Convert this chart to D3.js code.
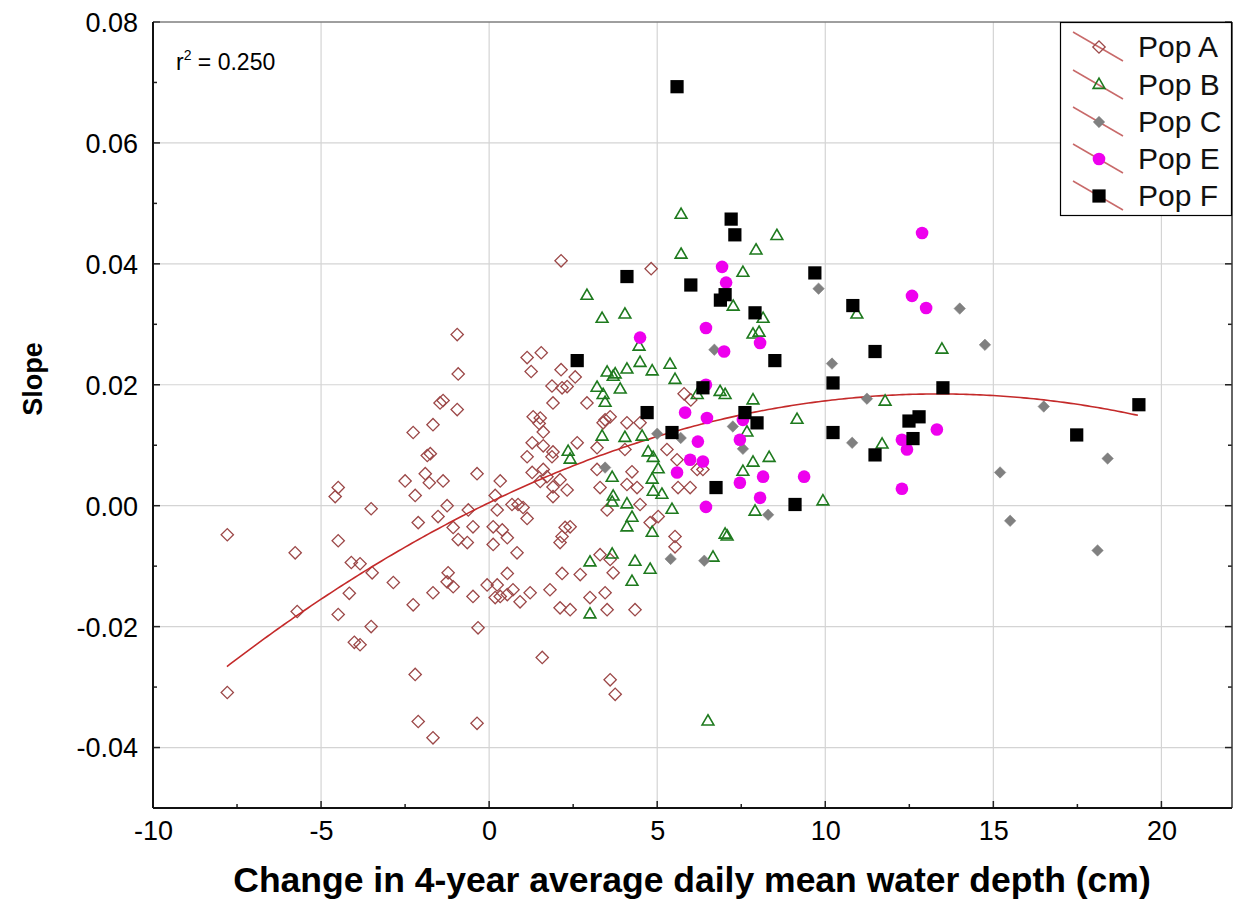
<!DOCTYPE html>
<html><head><meta charset="utf-8">
<script src="https://cdn.jsdelivr.net/npm/d3@7"></script>
<style>body{margin:0;background:#fff} text{font-family:"Liberation Sans",Arial,sans-serif}</style>
</head><body><svg id="chart" width="1233" height="913"></svg>
<script>
// Slope vs change in water depth, five populations
const popA = [
[-7.79,-0.0048],[-5.77,-0.0078],[-5.71,-0.0175],[-7.79,-0.0309],[-4.49,0.0030],[-4.58,0.0015],[-4.49,-0.0058],[-4.10,-0.0094],[-3.84,-0.0096],[-4.16,-0.0145],[-4.49,-0.0180],[-4.01,-0.0226],[-3.84,-0.0230],
[-0.95,0.0283],[-0.92,0.0218],[-1.46,0.0170],[-1.37,0.0174],[-0.95,0.0159],[-1.67,0.0134],[-2.26,0.0121],[-1.84,0.0083],[-1.75,0.0086],[-1.90,0.0053],[-2.50,0.0041],[-1.78,0.0038],[-1.37,0.0041],[-0.36,0.0053],[-2.20,0.0017],[-3.51,-0.0005],[-1.25,0.0000],[-1.52,-0.0018],[-2.11,-0.0028],[-0.62,-0.0007],
[-1.07,-0.0036],[-0.48,-0.0035],[-0.92,-0.0056],[-0.65,-0.0061],[0.12,-0.0035],[0.12,-0.0064],[-3.48,-0.0111],[-2.85,-0.0127],[-2.26,-0.0164],[-1.67,-0.0144],[-1.22,-0.0111],[-1.25,-0.0126],[-1.07,-0.0134],[-0.48,-0.0150],[-0.06,-0.0131],[0.18,-0.0152],[-3.51,-0.0200],[-0.33,-0.0202],[-2.20,-0.0279],[-2.11,-0.0357],[-1.67,-0.0384],[-0.36,-0.0360],
[2.14,0.0405],[1.13,0.0245],[1.55,0.0253],[1.25,0.0222],[2.14,0.0225],[2.56,0.0213],[1.87,0.0198],[2.17,0.0195],[2.32,0.0197],[1.90,0.0170],[2.91,0.0170],[1.31,0.0147],[1.52,0.0145],
[1.49,0.0136],[1.61,0.0122],[1.28,0.0104],[1.61,0.0099],[1.13,0.0081],[1.90,0.0089],[1.87,0.0081],[2.62,0.0104],[3.21,0.0096],[3.45,0.0142],[1.28,0.0055],[1.61,0.0060],[1.72,0.0048],[1.52,0.0040],[2.11,0.0043],[1.90,0.0031],[2.32,0.0026],[1.90,0.0015],[0.33,0.0041],[0.18,0.0017],[0.24,-0.0007],[0.68,0.0002],[0.86,0.0002],[1.01,-0.0003],[1.13,-0.0021],[0.39,-0.0040],[0.54,-0.0053],[0.83,-0.0078],[2.26,-0.0036],[2.41,-0.0035],[2.17,-0.0051],[2.11,-0.0061],[3.21,0.0060],[3.30,0.0030],[3.51,-0.0007],[3.30,-0.0081],[3.60,-0.0089],
[0.54,-0.0112],[0.24,-0.0131],[0.33,-0.0150],[0.71,-0.0139],[0.54,-0.0147],[0.92,-0.0159],[1.22,-0.0144],[1.81,-0.0139],[2.11,-0.0169],[2.41,-0.0172],[2.71,-0.0114],[2.17,-0.0112],[3.00,-0.0152],[3.45,-0.0144],[3.51,-0.0172],[3.69,-0.0111],[1.58,-0.0251],[3.60,-0.0288],[3.75,-0.0312],
[4.82,0.0392],[3.39,0.0137],[3.60,0.0147],[4.10,0.0137],[4.49,0.0137],[4.04,0.0093],[5.29,0.0093],[5.59,0.0076],[4.25,0.0056],[4.10,0.0035],[4.40,0.0030],[5.98,0.0030],[5.62,0.0030],[6.19,0.0060],[6.36,0.0060],[4.49,0.0002],[5.03,-0.0018],[4.79,-0.0028],[5.53,-0.0051],[5.53,-0.0068],[4.34,-0.0172],
[5.80,0.0185],[6.00,0.0175]
];
const popB = [
[2.91,0.0347],[3.36,0.0309],[3.21,0.0195],[3.39,0.0183],[3.45,0.0170],[3.69,0.0213],
[5.71,0.0481],[5.71,0.0415],[4.04,0.0316],[4.46,0.0263],[4.10,0.0225],[4.49,0.0236],[4.85,0.0222],[5.38,0.0233],[3.51,0.0220],[3.75,0.0217],[5.53,0.0208],[3.90,0.0192],
[2.35,0.0089],[2.41,0.0076],[3.36,0.0114],[3.66,0.0046],[3.69,0.0015],[3.00,-0.0094],[3.00,-0.0180],
[4.04,0.0112],[4.55,0.0114],[4.73,0.0088],[4.88,0.0079],[5.03,0.0060],[4.85,0.0043],[4.88,0.0023],[5.14,0.0018],[3.66,0.0005],[4.10,0.0002],[4.25,-0.0020],[4.10,-0.0036],[4.85,-0.0045],[5.44,-0.0007],[3.66,-0.0081],[4.34,-0.0093],[4.79,-0.0106],[4.25,-0.0126],[7.02,-0.0048],[6.66,-0.0086],[6.51,-0.0357],
[8.56,0.0446],[7.94,0.0422],[7.55,0.0385],[7.26,0.0329],[8.15,0.0309],[7.85,0.0283],[8.03,0.0286],[7.02,0.0183],[7.85,0.0174],[9.16,0.0142],[7.67,0.0121],[7.85,0.0071],[8.33,0.0079],[7.55,0.0056],[9.93,0.0007],[7.91,-0.0010],[7.08,-0.0051],[10.94,0.0316],
[13.47,0.0258],[11.78,0.0172],[11.69,0.0101],
[6.19,0.0183],[6.87,0.0188]
];
const popC = [
[14.0,0.0326],[14.75,0.0266],[9.8,0.0359],[10.2,0.0235],[11.24,0.0177],[10.8,0.0104],[7.55,0.0094],[7.25,0.0131],[8.3,-0.0015],[16.5,0.0164],[18.4,0.0078],[15.2,0.0055],[15.5,-0.0025],[18.1,-0.0074],[6.7,0.0258],[5.0,0.0119],[5.7,0.0112],[3.45,0.0063],[5.4,-0.0088],[6.4,-0.0091]
];
const popE = [
[12.88,0.0451],[12.58,0.0347],[13.0,0.0327],[13.32,0.0126],[12.28,0.0109],[12.43,0.0093],[12.28,0.0028],[9.37,0.0048],[8.15,0.0048],[8.06,0.0013],[7.46,0.0038],[7.55,0.0142],[7.46,0.0109],[6.99,0.0255],[8.06,0.0269],[6.93,0.0395],[7.05,0.0369],[6.45,0.0294],[4.49,0.0278],[5.83,0.0154],[6.48,0.0145],[6.21,0.0106],[5.98,0.0076],[6.36,0.0073],[5.59,0.0055],[6.45,-0.0002],[6.45,0.0200]
];
const popF = [
[5.59,0.0693],[7.2,0.0474],[7.31,0.0448],[4.10,0.0379],[6.0,0.0365],[7.02,0.0349],[6.88,0.0340],[9.69,0.0385],[10.82,0.0331],[7.91,0.0319],[11.48,0.0255],[2.62,0.0240],[8.5,0.0240],[10.23,0.0203],[6.36,0.0195],[13.5,0.0195],[19.33,0.0167],[4.70,0.0154],[7.61,0.0154],[12.79,0.0147],[12.49,0.0140],[7.97,0.0137],[5.44,0.0121],[10.23,0.0121],[17.48,0.0117],[12.61,0.0111],[11.48,0.0084],[6.75,0.0030],[9.1,0.0002]
];
const seriesNames = ["Pop A", "Pop B", "Pop C", "Pop E", "Pop F"];
const xTickValues = [-10, -5, 0, 5, 10, 15, 20];
const yTickValues = [-0.04, -0.02, 0.00, 0.02, 0.04, 0.06, 0.08];
// quadratic fit: slope = c0 + c1*x + c2*x^2
const fitCoefficients = [0.0005, 0.00269, -0.0001006];
const fitXRange = [-7.8, 19.3];
const rSquaredText = "0.250";

const W = 1233, H = 913;
const plot = {left: 153, right: 1232, top: 22, bottom: 808};
const svg = d3.select("#chart");
svg.append("rect").attr("width", W).attr("height", H).attr("fill", "#fff");

const x = d3.scaleLinear().domain([-10, 22.1]).range([plot.left, plot.right]);
const y = d3.scaleLinear().domain([-0.05, 0.08]).range([plot.bottom, plot.top]);

// grid
const grid = svg.append("g").attr("stroke", "#d4d4d4").attr("stroke-width", 1.2);
xTickValues.filter(v => v > -10).forEach(v => {
  grid.append("line").attr("x1", x(v)).attr("x2", x(v)).attr("y1", plot.top).attr("y2", plot.bottom);
});
yTickValues.forEach(v => {
  grid.append("line").attr("x1", plot.left).attr("x2", plot.right).attr("y1", y(v)).attr("y2", y(v));
});

// axes with inward ticks; labels use a plain hyphen for negatives
const hyphen = s => s.replace("\u2212", "-");
const fmtY = d => hyphen(d3.format(".2f")(d));
const fmtX = d => hyphen(d3.format("d")(d));
const yAxisL = d3.axisLeft(y).tickValues(yTickValues).tickSize(0).tickPadding(15).tickFormat(fmtY);
const gy = svg.append("g").attr("transform", `translate(${plot.left},0)`).call(yAxisL);
gy.select(".domain").remove();
gy.selectAll("text").style("font-size", "27px").attr("fill", "#000").attr("dy", "0.35em");

const xAxisB = d3.axisBottom(x).tickValues(xTickValues).tickSize(0).tickPadding(13).tickFormat(fmtX);
const gx = svg.append("g").attr("transform", `translate(0,${plot.bottom})`).call(xAxisB);
gx.select(".domain").remove();
gx.selectAll("text").style("font-size", "27px").attr("fill", "#000");

const ticks = svg.append("g").attr("stroke", "#222").attr("stroke-width", 1.5);
d3.range(-0.05, 0.0801, 0.01).forEach(v => {
  const major = Math.abs(Math.round(v * 100)) % 2 === 0;
  const len = major ? 7 : 4;
  ticks.append("line").attr("x1", plot.left).attr("x2", plot.left + len).attr("y1", y(v)).attr("y2", y(v));
  ticks.append("line").attr("x1", plot.right).attr("x2", plot.right - len).attr("y1", y(v)).attr("y2", y(v));
});
d3.range(-10, 22.01, 2.5).forEach(v => {
  const major = v % 5 === 0;
  const len = major ? 7 : 4;
  ticks.append("line").attr("x1", x(v)).attr("x2", x(v)).attr("y1", plot.bottom).attr("y2", plot.bottom - len);
});

// frame
svg.append("line").attr("x1", plot.left).attr("x2", plot.right).attr("y1", plot.top).attr("y2", plot.top).attr("stroke", "#555").attr("stroke-width", 1);
svg.append("line").attr("x1", plot.right).attr("x2", plot.right).attr("y1", plot.top).attr("y2", plot.bottom).attr("stroke", "#333").attr("stroke-width", 1.5);
svg.append("line").attr("x1", plot.left).attr("x2", plot.left).attr("y1", plot.top).attr("y2", plot.bottom).attr("stroke", "#111").attr("stroke-width", 2);
svg.append("line").attr("x1", plot.left).attr("x2", plot.right).attr("y1", plot.bottom).attr("y2", plot.bottom).attr("stroke", "#111").attr("stroke-width", 2);

// marker styles
const styles = [
  {data: popA, type: d3.symbolSquare, rotate: 45, size: 76, fill: "none", stroke: "#9c4848", sw: 1.3},
  {data: popB, type: d3.symbolTriangle, rotate: 0, size: 60, fill: "none", stroke: "#1e7a1e", sw: 1.6},
  {data: popC, type: d3.symbolSquare, rotate: 45, size: 66, fill: "#808080", stroke: "#808080", sw: 0.5},
  {data: popE, type: d3.symbolCircle, rotate: 0, size: 125, fill: "#ee00ee", stroke: "none", sw: 0},
  {data: popF, type: d3.symbolSquare, rotate: 0, size: 175, fill: "#000", stroke: "none", sw: 0}
];

function drawSeries(st, g) {
  const sym = d3.symbol().type(st.type).size(st.size);
  g.selectAll("path").data(st.data).join("path")
    .attr("d", sym)
    .attr("transform", d => `translate(${x(d[0])},${y(d[1])}) rotate(${st.rotate})`)
    .attr("fill", st.fill).attr("stroke", st.stroke).attr("stroke-width", st.sw);
}

const pts = svg.append("g");
drawSeries(styles[0], pts.append("g"));

// fitted curve
const fitX = d3.range(fitXRange[0], fitXRange[1] + 0.001, 0.1);
const fitLine = d3.line().x(d => x(d)).y(d => y(fitCoefficients[0] + fitCoefficients[1] * d + fitCoefficients[2] * d * d));
svg.append("path").datum(fitX).attr("d", fitLine).attr("fill", "none").attr("stroke", "#c42a2a").attr("stroke-width", 1.6);

const pts2 = svg.append("g");
styles.slice(1).forEach(st => drawSeries(st, pts2.append("g")));

// r-squared note
const rt = svg.append("text").attr("x", 176).attr("y", 70).style("font-size", "23px").attr("fill", "#000");
rt.append("tspan").text("r");
rt.append("tspan").attr("dy", -10).style("font-size", "14px").text("2");
rt.append("tspan").attr("dy", 10).text(" = " + rSquaredText);

// legend
const leg = svg.append("g");
leg.append("rect").attr("x", 1060.5).attr("y", 22.5).attr("width", 171).attr("height", 193).attr("fill", "#fff").attr("stroke", "#000").attr("stroke-width", 1.2);
const rowY = [47, 85, 122, 159, 196];
seriesNames.forEach((name, i) => {
  const cy = rowY[i], cx = 1099;
  leg.append("line").attr("x1", cx - 26).attr("y1", cy - 15).attr("x2", cx + 24).attr("y2", cy + 14)
    .attr("stroke", "#c86a6a").attr("stroke-width", 1.5);
  const st = styles[i];
  leg.append("path").attr("d", d3.symbol().type(st.type).size(st.size)())
    .attr("transform", `translate(${cx},${cy}) rotate(${st.rotate})`)
    .attr("fill", st.fill).attr("stroke", st.stroke).attr("stroke-width", st.sw);
  leg.append("text").attr("x", 1138).attr("y", cy + 10).style("font-size", "30px").attr("fill", "#111").text(name);
});

// axis titles
svg.append("text").attr("x", 692).attr("y", 892).attr("text-anchor", "middle")
  .style("font-size", "35.5px").style("font-weight", "bold").text("Change in 4-year average daily mean water depth (cm)");
svg.append("text").attr("transform", "translate(42,379) rotate(-90)").attr("text-anchor", "middle")
  .style("font-size", "27px").style("font-weight", "bold").text("Slope");
</script></body></html>
